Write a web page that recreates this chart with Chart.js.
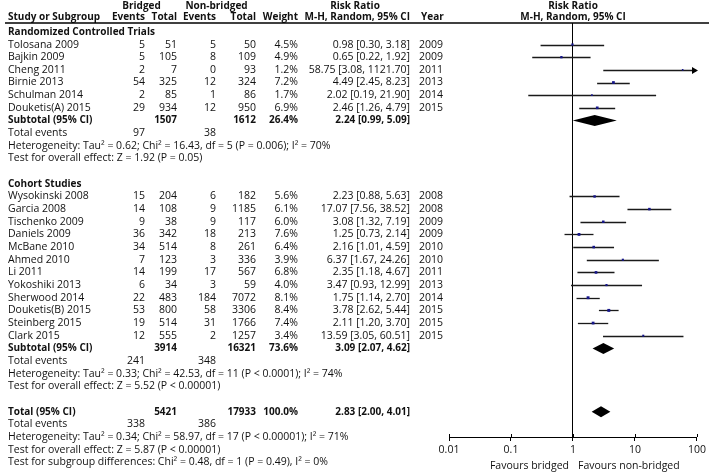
<!DOCTYPE html>
<html>
<head>
<meta charset="utf-8">
<script src="https://cdn.jsdelivr.net/npm/chart.js@4.4.1/dist/chart.umd.min.js"></script>
<style>
  html, body { margin: 0; padding: 0; background: #fff; }
  canvas { display: block; }
</style>
</head>
<body>
<canvas id="forestChart" width="709" height="472"></canvas>
<script>
// Randomized controlled trials
const rctStudies = ["Tolosana 2009", "Bajkin 2009", "Cheng 2011", "Birnie 2013", "Schulman 2014", "Douketis(A) 2015"];
const rctBridgedEvents = [5, 5, 2, 54, 2, 29];
const rctBridgedTotal = [51, 105, 7, 325, 85, 934];
const rctNonEvents = [5, 8, 0, 12, 1, 12];
const rctNonTotal = [50, 109, 93, 324, 86, 950];
const rctWeight = [4.5, 4.9, 1.2, 7.2, 1.7, 6.9];
const rctRR = [0.98, 0.65, 58.75, 4.49, 2.02, 2.46];
const rctLow = [0.30, 0.22, 3.08, 2.45, 0.19, 1.26];
const rctHigh = [3.18, 1.92, 1121.70, 8.23, 21.90, 4.79];
const rctYear = [2009, 2009, 2011, 2013, 2014, 2015];

// Cohort studies
const cohStudies = ["Wysokinski 2008", "Garcia 2008", "Tischenko 2009", "Daniels 2009", "McBane 2010", "Ahmed 2010",
  "Li 2011", "Yokoshiki 2013", "Sherwood 2014", "Douketis(B) 2015", "Steinberg 2015", "Clark 2015"];
const cohBridgedEvents = [15, 14, 9, 36, 34, 7, 14, 6, 22, 53, 19, 12];
const cohBridgedTotal = [204, 108, 38, 342, 514, 123, 199, 34, 483, 800, 514, 555];
const cohNonEvents = [6, 9, 9, 18, 8, 3, 17, 3, 184, 58, 31, 2];
const cohNonTotal = [182, 1185, 117, 213, 261, 336, 567, 59, 7072, 3306, 1766, 1257];
const cohWeight = [5.6, 6.1, 6.0, 7.6, 6.4, 3.9, 6.8, 4.0, 8.1, 8.4, 7.4, 3.4];
const cohRR = [2.23, 17.07, 3.08, 1.25, 2.16, 6.37, 2.35, 3.47, 1.75, 3.78, 2.11, 13.59];
const cohLow = [0.88, 7.56, 1.32, 0.73, 1.01, 1.67, 1.18, 0.93, 1.14, 2.62, 1.20, 3.05];
const cohHigh = [5.63, 38.52, 7.19, 2.14, 4.59, 24.26, 4.67, 12.99, 2.70, 5.44, 3.70, 60.51];
const cohYear = [2008, 2008, 2009, 2009, 2010, 2010, 2011, 2013, 2014, 2015, 2015, 2015];

// pooled results: [subtotal RCT, subtotal cohort, overall]
const pooledLabels = ["Subtotal (95% CI)", "Subtotal (95% CI)", "Total (95% CI)"];
const pooledBridgedTotal = [1507, 3914, 5421];
const pooledNonTotal = [1612, 16321, 17933];
const pooledWeight = ["26.4%", "73.6%", "100.0%"];
const pooledRR = [2.24, 3.09, 2.83];
const pooledLow = [0.99, 2.07, 2.00];
const pooledHigh = [5.09, 4.62, 4.01];
const pooledBridgedEvents = [97, 241, 338];
const pooledNonEvents = [38, 348, 386];
const heterogeneity = [
  "Heterogeneity: Tau\u00b2 = 0.62; Chi\u00b2 = 16.43, df = 5 (P = 0.006); I\u00b2 = 70%",
  "Heterogeneity: Tau\u00b2 = 0.33; Chi\u00b2 = 42.53, df = 11 (P < 0.0001); I\u00b2 = 74%",
  "Heterogeneity: Tau\u00b2 = 0.34; Chi\u00b2 = 58.97, df = 17 (P < 0.00001); I\u00b2 = 71%"
];
const overallEffect = [
  "Test for overall effect: Z = 1.92 (P = 0.05)",
  "Test for overall effect: Z = 5.52 (P < 0.00001)",
  "Test for overall effect: Z = 5.87 (P < 0.00001)"
];
const subgroupTest = "Test for subgroup differences: Chi\u00b2 = 0.48, df = 1 (P = 0.49), I\u00b2 = 0%";

// axis
const tickValues = [0.01, 0.1, 1, 10, 100];
const tickLabels = ["0.01", "0.1", "1", "10", "100"];

const FONT = '"Open Sans", "Liberation Sans", sans-serif';
const FSIZE = 10.5;
const BSIZE = 10; // bold text runs a bit narrower in the original
const INK = '#111';

// build the row list (row index = y value on the hidden y scale)
const rows = [];
function addGroup(title, studies, be, bt, ne, nt, w, rr, lo, hi, yr, p) {
  rows.push({ kind: 'group', label: title });
  studies.forEach((s, i) => rows.push({
    kind: 'study', label: s, be: be[i], bt: bt[i], ne: ne[i], nt: nt[i],
    w: w[i], rr: rr[i], lo: lo[i], hi: hi[i], yr: yr[i]
  }));
  rows.push({ kind: 'pooled', p: p });
  rows.push({ kind: 'events', p: p });
  rows.push({ kind: 'text', label: heterogeneity[p] });
  rows.push({ kind: 'text', label: overallEffect[p] });
  rows.push({ kind: 'blank' });
}
addGroup("Randomized Controlled Trials", rctStudies, rctBridgedEvents, rctBridgedTotal, rctNonEvents, rctNonTotal,
  rctWeight, rctRR, rctLow, rctHigh, rctYear, 0);
addGroup("Cohort Studies", cohStudies, cohBridgedEvents, cohBridgedTotal, cohNonEvents, cohNonTotal,
  cohWeight, cohRR, cohLow, cohHigh, cohYear, 1);
rows.push({ kind: 'pooled', p: 2 });
rows.push({ kind: 'events', p: 2 });
rows.push({ kind: 'text', label: heterogeneity[2] });
rows.push({ kind: 'text', label: overallEffect[2] });
rows.push({ kind: 'text', label: subgroupTest });

const pointData = [];
const pointRadius = [];
rows.forEach((r, i) => {
  if (r.kind === 'study') {
    pointData.push({ x: r.rr, y: i });
    pointRadius.push(1 + r.w * 0.13);
  }
});

// column x positions (text table)
const col = { name: 8, be: 145, bt: 177, ne: 216, nt: 256, w: 298, rr: 410, yr: 419 };

function fmt(v) { return v.toFixed(2); }

function text(ctx, str, x, y, align, bold) {
  ctx.font = bold ? ('bold ' + BSIZE + 'px ' + FONT) : (FSIZE + 'px ' + FONT);
  ctx.textAlign = align;
  ctx.fillStyle = INK;
  ctx.fillText(str, x, y);
}

const forestPlugin = {
  id: 'forest',
  beforeDatasetsDraw(chart) {
    const { ctx, chartArea, scales: { x, y } } = chart;
    ctx.save();
    ctx.beginPath();
    ctx.rect(chartArea.left, chartArea.top - 2, chartArea.right - chartArea.left + 10, chartArea.bottom - chartArea.top + 4);
    ctx.clip();
    ctx.strokeStyle = '#1a1a1a';
    ctx.lineWidth = 1.3;
    rows.forEach((r, i) => {
      if (r.kind !== 'study') return;
      const py = Math.round(y.getPixelForValue(i)) + 0.5;
      const x0 = x.getPixelForValue(Math.max(r.lo, x.min));
      const capped = r.hi > x.max;
      const x1 = x.getPixelForValue(Math.min(r.hi, x.max));
      ctx.beginPath();
      ctx.moveTo(x0, py);
      ctx.lineTo(capped ? x1 - 1 : x1, py);
      ctx.stroke();
      if (capped) {
        ctx.fillStyle = '#000';
        ctx.beginPath();
        ctx.moveTo(x1 + 1, py);
        ctx.lineTo(x1 - 5, py - 3.5);
        ctx.lineTo(x1 - 5, py + 3.5);
        ctx.closePath();
        ctx.fill();
      }
    });
    ctx.restore();
  },
  afterDatasetsDraw(chart) {
    const { ctx, scales: { x, y } } = chart;
    ctx.save();
    ctx.fillStyle = '#000';
    rows.forEach((r, i) => {
      if (r.kind !== 'pooled') return;
      const p = r.p;
      const py = y.getPixelForValue(i);
      const xl = x.getPixelForValue(pooledLow[p]);
      const xc = x.getPixelForValue(pooledRR[p]);
      const xh = x.getPixelForValue(pooledHigh[p]);
      ctx.beginPath();
      ctx.moveTo(xl, py);
      ctx.lineTo(xc, py - 5.5);
      ctx.lineTo(xh, py);
      ctx.lineTo(xc, py + 5.5);
      ctx.closePath();
      ctx.fill();
    });
    ctx.restore();
  },
  afterDraw(chart) {
    const { ctx, chartArea, scales: { x, y } } = chart;
    ctx.save();
    ctx.textBaseline = 'middle';
    const top = chartArea.top;
    const x1 = x.getPixelForValue(1);

    // header
    text(ctx, 'Bridged', 141.5, top - 17, 'center', true);
    text(ctx, 'Non-bridged', 216.5, top - 17, 'center', true);
    text(ctx, 'Risk Ratio', 355, top - 17, 'center', true);
    text(ctx, 'Risk Ratio', x1, top - 17, 'center', true);
    text(ctx, 'Study or Subgroup', col.name, top - 6, 'left', true);
    text(ctx, 'Events', col.be, top - 6, 'right', true);
    text(ctx, 'Total', col.bt, top - 6, 'right', true);
    text(ctx, 'Events', col.ne, top - 6, 'right', true);
    text(ctx, 'Total', col.nt, top - 6, 'right', true);
    text(ctx, 'Weight', col.w, top - 6, 'right', true);
    text(ctx, 'M-H, Random, 95% CI', col.rr, top - 6, 'right', true);
    text(ctx, 'Year', col.yr + 2, top - 6, 'left', true);
    text(ctx, 'M-H, Random, 95% CI', x1, top - 6, 'center', true);

    ctx.strokeStyle = '#000';
    ctx.lineWidth = 1.6;
    ctx.beginPath();
    ctx.moveTo(5, top);
    ctx.lineTo(chart.width, top);
    ctx.stroke();

    // tick marks also reach a little above the axis line
    ctx.lineWidth = 1;
    x.ticks.forEach(t => {
      const px = Math.round(x.getPixelForValue(t.value)) + 0.5;
      ctx.beginPath();
      ctx.moveTo(px, chartArea.bottom - 3);
      ctx.lineTo(px, chartArea.bottom);
      ctx.stroke();
    });

    rows.forEach((r, i) => {
      const py = y.getPixelForValue(i);
      if (r.kind === 'group') {
        text(ctx, r.label, col.name, py, 'left', true);
      } else if (r.kind === 'study') {
        text(ctx, r.label, col.name, py, 'left', false);
        text(ctx, String(r.be), col.be, py, 'right', false);
        text(ctx, String(r.bt), col.bt, py, 'right', false);
        text(ctx, String(r.ne), col.ne, py, 'right', false);
        text(ctx, String(r.nt), col.nt, py, 'right', false);
        text(ctx, r.w.toFixed(1) + '%', col.w, py, 'right', false);
        text(ctx, fmt(r.rr) + ' [' + fmt(r.lo) + ', ' + fmt(r.hi) + ']', col.rr, py, 'right', false);
        text(ctx, String(r.yr), col.yr, py, 'left', false);
      } else if (r.kind === 'pooled') {
        const p = r.p;
        text(ctx, pooledLabels[p], col.name, py, 'left', true);
        text(ctx, String(pooledBridgedTotal[p]), col.bt, py, 'right', true);
        text(ctx, String(pooledNonTotal[p]), col.nt, py, 'right', true);
        text(ctx, pooledWeight[p], col.w, py, 'right', true);
        text(ctx, fmt(pooledRR[p]) + ' [' + fmt(pooledLow[p]) + ', ' + fmt(pooledHigh[p]) + ']', col.rr, py, 'right', true);
      } else if (r.kind === 'events') {
        text(ctx, 'Total events', col.name, py, 'left', false);
        text(ctx, String(pooledBridgedEvents[r.p]), col.be, py, 'right', false);
        text(ctx, String(pooledNonEvents[r.p]), col.ne, py, 'right', false);
      } else if (r.kind === 'text') {
        text(ctx, r.label, col.name, py, 'left', false);
      }
    });

    // favours labels under the axis
    text(ctx, 'Favours bridged', x1 - 4, 466, 'right', false);
    text(ctx, 'Favours non-bridged', x1 + 5, 466, 'left', false);
    ctx.restore();
  }
};

function createChart() {
  const ctx = document.getElementById('forestChart').getContext('2d');
  window.forestChart = new Chart(ctx, {
    type: 'scatter',
    data: {
      datasets: [{
        label: 'Risk ratio',
        data: pointData,
        pointStyle: 'rect',
        pointRadius: pointRadius,
        backgroundColor: '#16168a',
        borderColor: '#16168a',
        borderWidth: 0
      }]
    },
    options: {
      responsive: false,
      animation: false,
      devicePixelRatio: 1,
      layout: { padding: { left: 449, right: 10, top: 23, bottom: 0 } },
      plugins: { legend: { display: false }, tooltip: { enabled: false } },
      scales: {
        x: {
          type: 'logarithmic',
          min: 0.01,
          max: 100,
          afterBuildTicks: (scale) => { scale.ticks = tickValues.map(v => ({ value: v })); },
          afterFit: (scale) => { scale.height = 35; },
          ticks: {
            autoSkip: false,
            maxRotation: 0,
            padding: 3,
            color: INK,
            font: { family: FONT, size: FSIZE },
            callback: (v, i) => tickLabels[i]
          },
          grid: {
            drawOnChartArea: true,
            color: (c) => (c.tick && c.tick.value === 1 ? '#000' : 'rgba(0,0,0,0)'),
            tickColor: '#000',
            tickLength: 4,
            lineWidth: 1
          },
          border: { display: true, color: '#000', width: 1 }
        },
        y: {
          type: 'linear',
          reverse: true,
          min: -0.7,
          max: 32,
          display: false
        }
      }
    },
    plugins: [forestPlugin]
  });
}

window.addEventListener('DOMContentLoaded', createChart);
</script>
</body>
</html>
